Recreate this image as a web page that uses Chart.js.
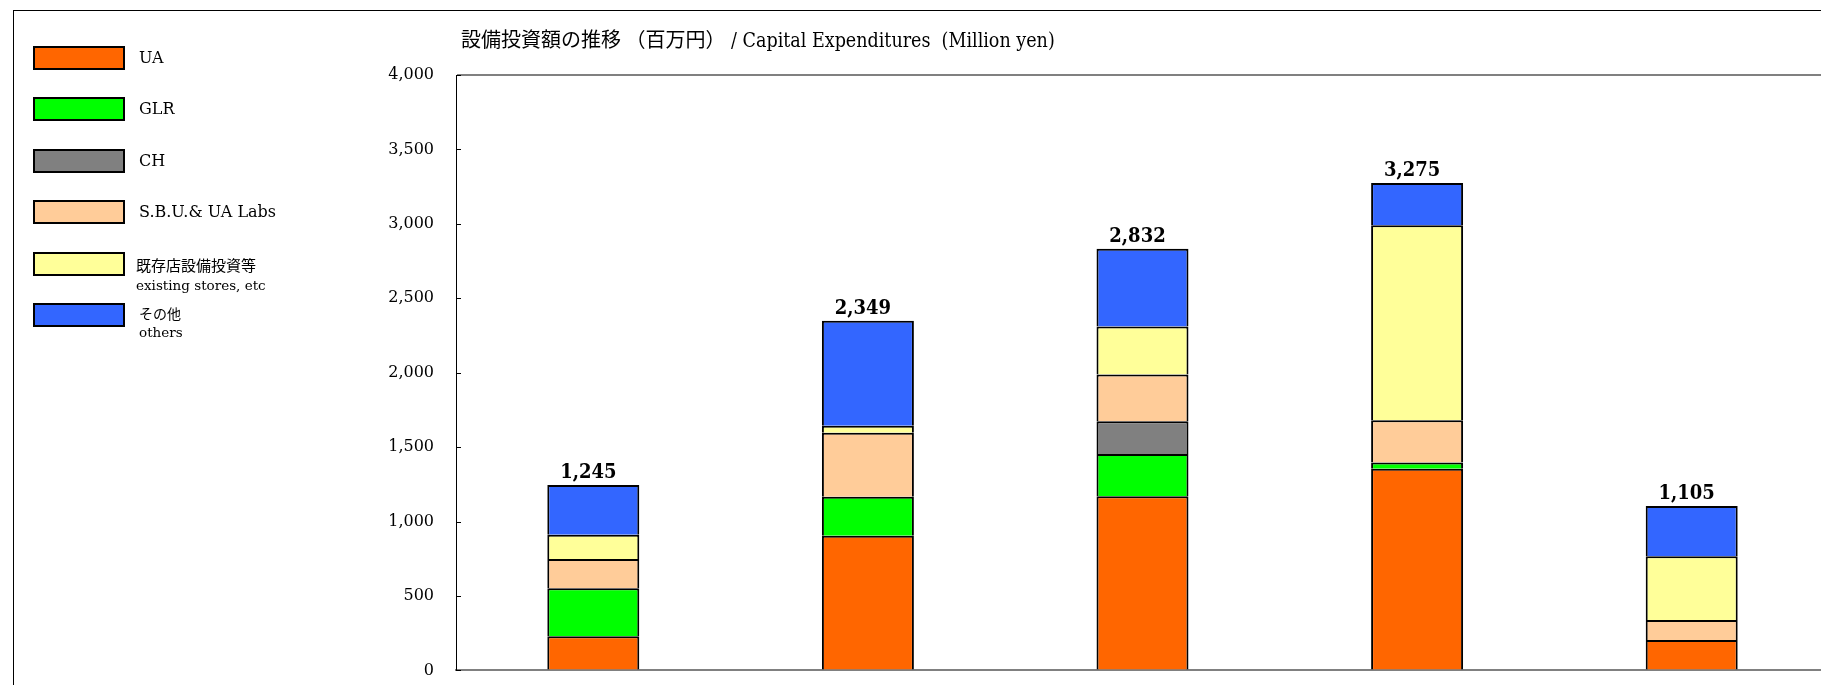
<!DOCTYPE html>
<html>
<head>
<meta charset="utf-8">
<script src="https://cdn.jsdelivr.net/npm/chart.js@4"></script>
<style>
  html, body { margin: 0; padding: 0; width: 1821px; height: 685px; overflow: hidden; background: #fff; }
  #frame { position: absolute; left: 13px; top: 10px; width: 1900px; height: 800px; border: 1px solid #000; box-sizing: border-box; }
  #chart { position: absolute; left: 0; top: 0; }
  #title { position: absolute; left: 461px; top: 24px; line-height: 26px; white-space: pre; color: #000; }
  #title .jp { font: 20px 'Noto Sans CJK JP', sans-serif; }
  #title .en { font: 19.5px 'DejaVu Serif Condensed', 'DejaVu Serif', serif; }
  .item { position: absolute; left: 33px; width: 300px; height: 50px; }
  .box { position: absolute; left: 0; top: 0; width: 92px; height: 24px; border: 2px solid #000; box-sizing: border-box; }
  .txt { position: absolute; white-space: pre; color: #000; }
</style>
</head>
<body>
<div id="frame"></div>
<!-- canvas is a little larger than the window: the plot runs past the right and bottom edges like the original crop -->
<canvas id="chart" width="1829" height="702"></canvas>
<div id="title"><span class="jp">設備投資額の推移 （百万円）</span><span class="en"> / Capital Expenditures  (Million yen)</span></div>
<div id="legend"></div>
<script>
// periods are below the visible crop, so the x tick labels are hidden
const periods = ['P1', 'P2', 'P3', 'P4', 'P5'];

const ua       = [230, 905, 1170, 1354, 204];
const glr      = [322, 262, 283, 43, 0];
const ch       = [0, 0, 220, 0, 0];
const sbu      = [196, 429, 315, 283, 135];
const existing = [163, 47, 323, 1310, 428];
const others   = [334, 706, 521, 285, 338];
const totals   = [1245, 2349, 2832, 3275, 1105];

const seriesNames = ['UA', 'GLR', 'CH', 'S.B.U.& UA Labs', '既存店設備投資等', 'その他'];
const legendLines = [['UA'], ['GLR'], ['CH'], ['S.B.U.& UA Labs'], ['既存店設備投資等', 'existing stores, etc'], ['その他', 'others']];
const seriesData = [ua, glr, ch, sbu, existing, others];
const colors = ['#FF6600', '#00FF00', '#808080', '#FFCC99', '#FFFF99', '#3366FF'];

const SERIF = "'DejaVu Serif', serif";
const SERIF_C = "'DejaVu Serif Condensed', 'DejaVu Serif', serif";
const CJK = "'Noto Sans CJK JP', sans-serif";

// legend on the left
const legend = document.getElementById('legend');
legendLines.forEach((lines, i) => {
  const item = document.createElement('div');
  item.className = 'item';
  item.style.top = (46 + i * 51.4) + 'px';
  const box = document.createElement('div');
  box.className = 'box';
  box.style.background = colors[i];
  item.appendChild(box);
  lines.forEach((line, j) => {
    const t = document.createElement('div');
    t.className = 'txt';
    t.textContent = line;
    const isCjk = /[^\x00-\x7f]/.test(line);
    let size, center, left;
    if (lines.length === 1) {
      size = 16; center = 12; left = 106;
    } else if (j === 0) {
      size = i === 4 ? 15 : 14; center = i === 4 ? 13 : 10; left = i === 4 ? 103 : 106;
    } else {
      size = 13.5; center = i === 4 ? 33 : 29; left = i === 4 ? 103 : 106;
    }
    t.style.fontFamily = isCjk ? CJK : SERIF;
    t.style.fontSize = size + 'px';
    t.style.lineHeight = '20px';
    t.style.top = (center - 10) + 'px';
    t.style.left = left + 'px';
    item.appendChild(t);
  });
  legend.appendChild(item);
});

const totalLabels = {
  id: 'totalLabels',
  afterDatasetsDraw(chart) {
    const ctx = chart.ctx;
    const meta = chart.getDatasetMeta(chart.data.datasets.length - 1);
    ctx.save();
    ctx.font = 'bold 20px ' + SERIF_C;
    ctx.fillStyle = '#000';
    ctx.textAlign = 'center';
    ctx.textBaseline = 'alphabetic';
    meta.data.forEach((bar, i) => {
      ctx.fillText(totals[i].toLocaleString('en-US'), bar.x - 5, bar.y - 7);
    });
    ctx.restore();
  }
};

// small tick marks on the inside of the value axis
const innerTicks = {
  id: 'innerTicks',
  afterDraw(chart) {
    const y = chart.scales.y;
    const ctx = chart.ctx;
    const left = chart.chartArea.left;
    ctx.save();
    ctx.strokeStyle = '#000';
    ctx.lineWidth = 1;
    y.ticks.forEach(t => {
      const py = Math.round(y.getPixelForValue(t.value)) + 0.5;
      ctx.beginPath();
      ctx.moveTo(left, py);
      ctx.lineTo(left + 5, py);
      ctx.stroke();
    });
    ctx.restore();
  }
};

new Chart(document.getElementById('chart').getContext('2d'), {
  type: 'bar',
  data: {
    labels: periods,
    datasets: seriesData.map((d, i) => ({
      label: seriesNames[i],
      data: d,
      backgroundColor: colors[i],
      borderColor: '#000',
      borderWidth: 2
    }))
  },
  options: {
    responsive: false,
    animation: false,
    layout: { padding: { top: 75, bottom: 15, left: 0, right: 0 } },
    datasets: { bar: { categoryPercentage: 1, barPercentage: 0.335 } },
    plugins: {
      legend: { display: false },
      tooltip: { enabled: false },
      title: { display: false }
    },
    scales: {
      x: {
        stacked: true,
        ticks: { display: false },
        grid: { display: false, drawTicks: false },
        border: { display: true, color: '#808080', width: 2 },
        afterFit: s => { s.height = 0; }
      },
      y: {
        stacked: true,
        min: 0,
        max: 4000,
        ticks: {
          stepSize: 500,
          padding: 22,
          color: '#000',
          font: { family: SERIF, size: 16 },
          callback: v => v.toLocaleString('en-US')
        },
        grid: {
          drawTicks: false,
          lineWidth: 2,
          color: c => (c.tick && c.tick.value === 4000) ? '#808080' : 'rgba(0,0,0,0)'
        },
        border: { color: '#000', width: 1 },
        afterFit: s => { s.width = 456; }
      }
    }
  },
  plugins: [totalLabels, innerTicks]
});
</script>
</body>
</html>
